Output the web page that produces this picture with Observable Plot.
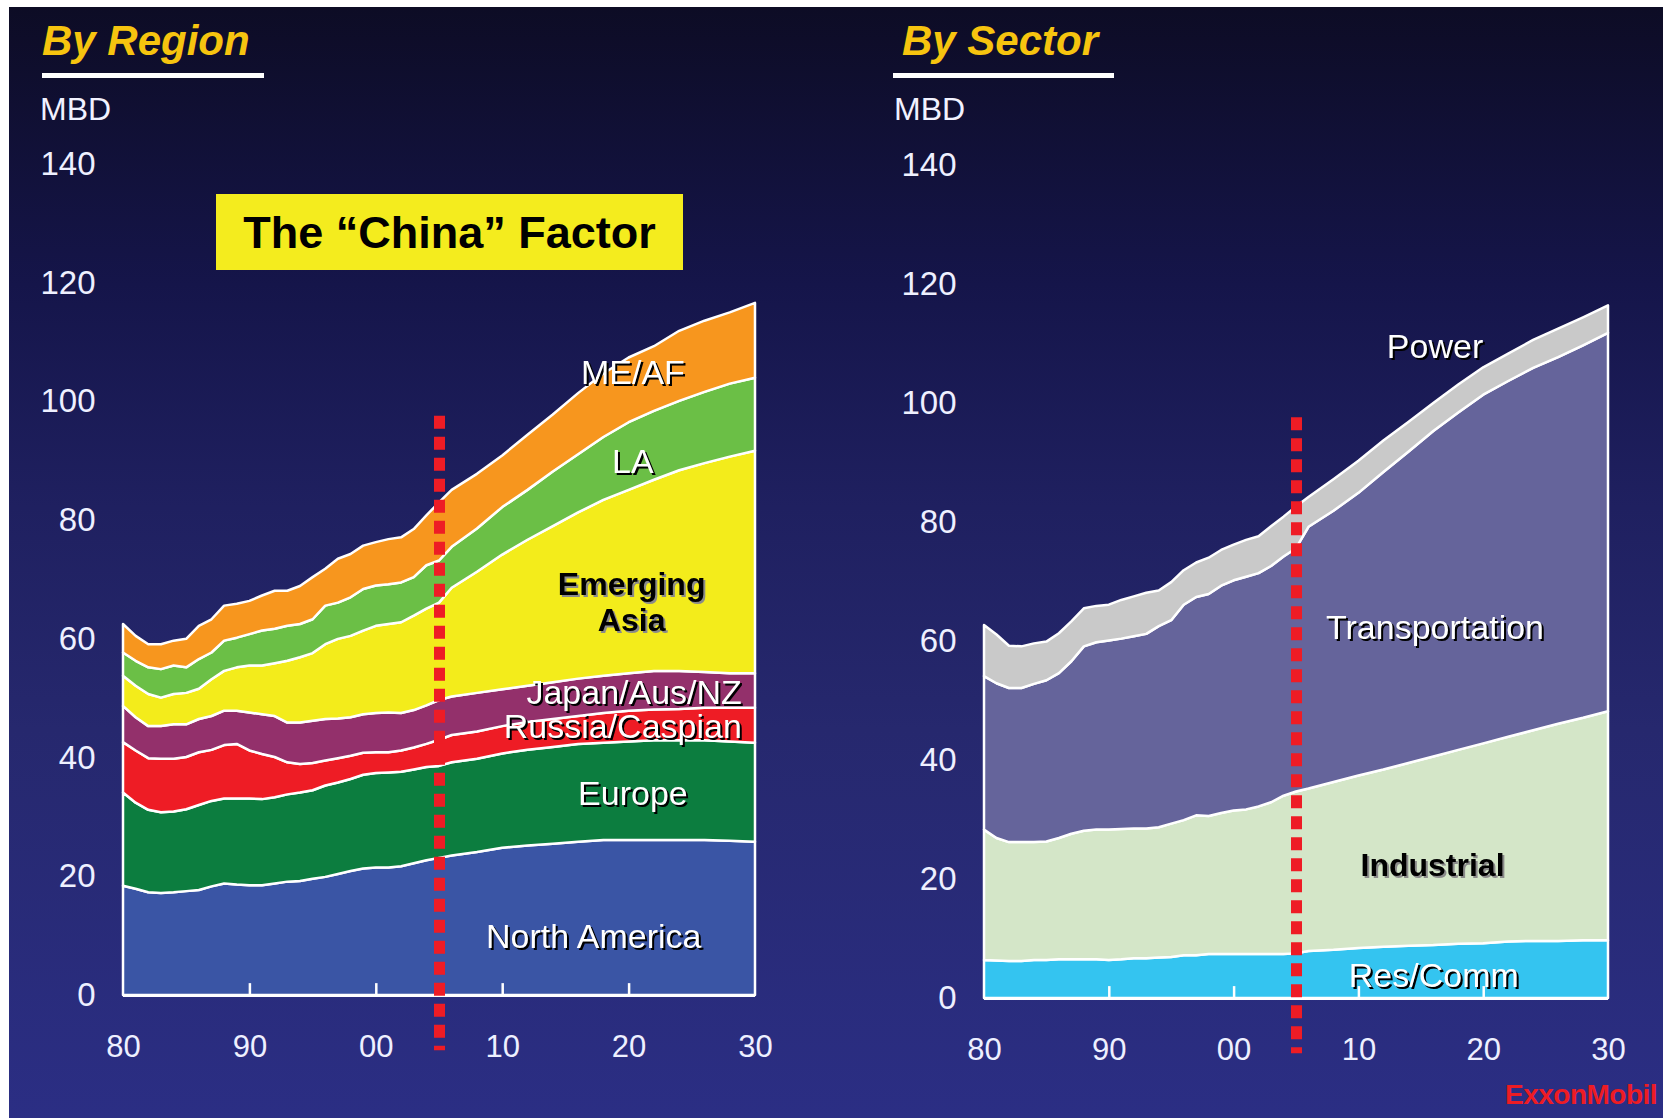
<!DOCTYPE html>
<html>
<head>
<meta charset="utf-8">
<script src="https://cdn.jsdelivr.net/npm/d3@7"></script>
<script src="https://cdn.jsdelivr.net/npm/@observablehq/plot@0.6"></script>
<style>
  html, body { margin: 0; padding: 0; background: #ffffff; }
  #page { position: relative; width: 1663px; height: 1118px; overflow: hidden; background: #ffffff;
          font-family: "Liberation Sans", Arial, sans-serif; }
  #bg { position: absolute; left: 9px; top: 7px; right: 0; bottom: 0;
        background: linear-gradient(180deg, #0d0c25 0%, #15154a 25%, #1f2060 45%, #26286e 65%, #2b2e84 100%); }
  .title { position: absolute; font-size: 42px; line-height: 42px; font-weight: bold; font-style: italic;
           color: #f6c40f; white-space: nowrap; }
  .bar { position: absolute; height: 5px; background: #ffffff; }
  .unit { position: absolute; font-size: 32px; line-height: 32px; color: #f2f2ff; white-space: nowrap; }
  .chart { position: absolute; top: 0; }
  #china { position: absolute; left: 216px; top: 194px; width: 467px; height: 76px; background: #f4ec1e;
           display: flex; align-items: center; justify-content: center;
           font-size: 45px; line-height: 45px; font-weight: bold; color: #000000; white-space: nowrap; }
  #logo { position: absolute; left: 1505px; top: 1081px; font-size: 28px; line-height: 28px; font-weight: bold;
          color: #ed1c24; white-space: nowrap; letter-spacing: -0.5px; }
</style>
</head>
<body>
<div id="page">
  <div id="bg"></div>
  <div class="title" style="left:42px; top:19.5px;">By Region</div>
  <div class="bar" style="left:42px; top:73px; width:222px;"></div>
  <div class="unit" style="left:40px; top:92.5px;">MBD</div>
  <div class="title" style="left:902px; top:19.5px;">By Sector</div>
  <div class="bar" style="left:893px; top:73px; width:221px;"></div>
  <div class="unit" style="left:894px; top:92.5px;">MBD</div>
  <div id="leftChart" class="chart" style="left:0px; width:830px;"></div>
  <div id="rightChart" class="chart" style="left:830px; width:833px;"></div>
  <div id="china">The “China” Factor</div>
  <div id="logo">ExxonMobil</div>
</div>
<script>
// ---------- data (MBD) ----------
const years = [1980,1981,1982,1983,1984,1985,1986,1987,1988,1989,
               1990,1991,1992,1993,1994,1995,1996,1997,1998,1999,
               2000,2001,2002,2003,2004,2005,
               2006,2008,2010,2012,2014,2016,2018,2020,2022,2024,2026,2028,2030];

// By Region
const northAmerica  = [18.4,17.9,17.3,17.2,17.3,17.5,17.7,18.3,18.8,18.6, 18.5,18.5,18.8,19.1,19.2,19.6,19.9,20.4,20.9,21.3, 21.5,21.5,21.7,22.2,22.7,23.1, 23.5,24.1,24.8,25.2,25.5,25.8,26.1,26.1,26.1,26.1,26.1,26.0,25.8];
const europe        = [15.7,14.5,13.9,13.6,13.6,13.8,14.3,14.4,14.3,14.5, 14.6,14.5,14.5,14.7,14.9,14.9,15.4,15.4,15.5,15.8, 15.9,16.0,15.9,15.8,15.7,15.5, 15.7,15.7,15.9,16.1,16.3,16.5,16.4,16.6,16.8,16.8,16.8,16.7,16.7];
const russiaCaspian = [8.5,8.8,8.7,9.0,8.9,8.8,8.9,8.6,9.0,9.2, 8.1,7.6,6.8,5.4,4.8,4.6,4.2,4.1,3.9,3.7, 3.5,3.4,3.6,3.7,3.9,4.4, 4.6,4.6,4.6,4.7,4.7,4.7,5.0,5.2,5.2,5.3,5.5,5.7,5.9];
const japanAusNZ    = [6.1,5.6,5.4,5.5,5.8,5.5,5.6,5.7,5.8,5.6, 6.4,6.7,6.9,6.7,7.0,7.1,7.0,6.7,6.5,6.5, 6.6,6.7,6.3,6.3,6.5,6.7, 6.5,6.5,6.2,6.1,6.2,6.3,6.3,6.3,6.5,6.4,6.0,5.8,5.8];
const emergingAsia  = [5.1,5.3,5.4,4.8,5.1,5.3,5.1,6.2,6.7,7.3, 7.9,8.2,8.9,10.4,11.0,11.4,12.6,13.4,13.7,14.1, 14.7,14.9,15.3,15.9,16.3,16.4, 18.3,20.4,22.7,24.6,26.3,28.0,29.6,30.9,32.2,33.8,35.2,36.5,37.5];
const latinAmerica  = [3.9,4.2,4.5,4.8,4.8,4.3,5.0,4.5,5.1,5.0, 5.3,5.9,5.8,5.9,5.6,5.7,6.5,6.1,6.5,7.0, 6.8,6.7,6.7,6.5,7.3,7.1, 6.9,7.3,8.0,8.4,9.2,9.8,10.6,11.4,11.6,11.7,12.0,12.3,12.3];
const meAfrica      = [4.8,4.2,3.9,4.2,4.2,4.8,5.6,5.6,5.9,5.7, 5.6,5.9,6.4,5.9,6.4,7.1,6.2,7.4,7.3,7.3, 7.3,7.6,7.6,8.1,8.4,9.8, 9.6,9.2,8.7,9.3,9.6,10.3,10.7,10.9,10.9,11.8,12.0,12.0,12.6];
const regionNames   = ["North America","Europe","Russia/Caspian","Japan/Aus/NZ","Emerging Asia","LA","ME/AF"];

// By Sector
const resComm        = [6.4,6.3,6.2,6.2,6.4,6.4,6.5,6.5,6.5,6.5, 6.4,6.5,6.7,6.7,6.8,6.9,7.2,7.2,7.4,7.4, 7.4,7.4,7.4,7.4,7.4,7.5, 7.9,8.1,8.4,8.6,8.8,8.9,9.1,9.2,9.5,9.6,9.6,9.7,9.7];
const industrial     = [21.9,20.6,20.0,20.0,19.8,19.9,20.4,21.1,21.6,21.8, 21.9,21.9,21.8,21.8,21.9,22.4,22.7,23.5,23.2,23.7, 24.1,24.3,24.8,25.5,26.6,27.2, 27.3,28.2,29.0,29.8,30.7,31.7,32.6,33.6,34.4,35.4,36.5,37.4,38.5];
const transportation = [25.8,26.0,25.9,25.9,26.6,27.1,27.7,29.0,31.0,31.5, 31.8,32.0,32.3,32.7,33.8,34.2,36.2,36.7,37.3,38.2, 38.7,39.1,39.2,39.7,40.2,40.9, 44.0,45.6,47.5,50.0,52.3,54.7,56.7,58.6,59.8,60.9,61.6,62.6,63.6];
const power          = [8.6,8.2,7.1,7.0,6.8,6.5,6.7,6.7,6.4,6.1, 6.0,6.5,6.7,6.9,6.0,6.4,5.8,5.8,6.1,6.0, 6.0,6.2,6.2,6.7,6.7,7.0, 5.0,5.3,5.4,5.3,5.0,4.7,4.7,4.6,4.6,4.7,4.8,4.7,4.6];
const sectorNames    = ["Res/Comm","Industrial","Transportation","Power"];

// Axis ticks and annotations (data units)
const xTicks = [1980,1990,2000,2010,2020,2030];
const yTicks = [0,20,40,60,80,100,120,140];
const dividerYear = 2005;      // history / outlook split
const dividerTop = 97.6;
const dividerBottom = -9.3;

const regionLabelText  = ["ME/AF","LA","Emerging\nAsia","Japan/Aus/NZ","Russia/Caspian","Europe","North America"];
const regionLabelYear  = [2020.3, 2020.3, 2020.2, 2020.4, 2019.5, 2020.3, 2017.2];
const regionLabelValue = [104.8, 89.8, 66.4, 51.0, 45.2, 33.9, 9.8];
const regionLabelDark  = [false, false, true, false, false, false, false];

const sectorLabelText  = ["Power","Transportation","Industrial","Res/Comm"];
const sectorLabelYear  = [2016.1, 2016.1, 2015.9, 2016.0];
const sectorLabelValue = [109.5, 62.2, 22.5, 3.7];
const sectorLabelDark  = [false, false, true, false];

// ---------- styles ----------
const FONT = '"Liberation Sans", Arial, sans-serif';
const regionColors = ["#3a55a5","#0c7d3f","#ee1c25","#93306b","#f3ec1b","#6bbf46","#f7961e"];
const sectorColors = ["#34c4f0","#d4e6c8","#65649b","#c9c9c9"];

// ---------- build tables ----------
const regionSeries = [northAmerica, europe, russiaCaspian, japanAusNZ, emergingAsia, latinAmerica, meAfrica];
const sectorSeries = [resComm, industrial, transportation, power];
const toTable = (names, series) => names.flatMap((name, i) => years.map((year, j) => ({year, series: name, value: series[i][j]})));
const regionTable = toTable(regionNames, regionSeries);
const sectorTable = toTable(sectorNames, sectorSeries);
const toLabels = (t, x, y, d) => t.map((text, i) => ({text, year: x[i], value: y[i], dark: d[i]}));
const regionLabels = toLabels(regionLabelText, regionLabelYear, regionLabelValue, regionLabelDark);
const sectorLabels = toLabels(sectorLabelText, sectorLabelYear, sectorLabelValue, sectorLabelDark);

const fmtYear = d => String(d % 100).padStart(2, "0");

function chart({width, marginLeft, marginRight, marginTop, marginBottom, table, names, colors, labels}) {
  const light = labels.filter(d => !d.dark);
  const dark = labels.filter(d => d.dark);
  const svg = Plot.plot({
    width, height: 1118, marginLeft, marginRight, marginTop, marginBottom,
    style: {background: "transparent", color: "#eef0ff", fontFamily: FONT, fontSize: "32px", overflow: "visible"},
    x: {domain: [1980, 2030]},
    y: {domain: [0, 140]},
    color: {domain: names, range: colors},
    marks: [
      Plot.areaY(table, {x: "year", y: "value", fill: "series", stroke: "white", strokeWidth: 2.5, strokeLinejoin: "round"}),
      Plot.ruleY([0], {stroke: "white", strokeWidth: 3}),
      Plot.ruleX(xTicks.slice(1, -1), {y1: 0, y2: 2, stroke: "white", strokeWidth: 2.5}),
      Plot.axisX({ticks: xTicks, tickFormat: fmtYear, tickSize: 0, tickPadding: 39, fontSize: 31, label: null, fill: "#eef0ff"}),
      Plot.axisY({ticks: yTicks, tickSize: 0, tickPadding: 28, fontSize: 33, label: null, fill: "#eef0ff"}),
      Plot.text(light, {x: "year", y: "value", text: "text", fill: "#ffffff", fontSize: 34, lineAnchor: "middle", textAnchor: "middle"}),
      Plot.text(dark, {x: "year", y: "value", text: "text", fill: "#000000", fontSize: 32, fontWeight: "bold", lineHeight: 1.12, lineAnchor: "middle", textAnchor: "middle"}),
      Plot.ruleX([dividerYear], {y1: dividerTop, y2: dividerBottom, stroke: "#ee1c25", strokeWidth: 11, strokeDasharray: "13,8"})
    ]
  });
  // drop shadows on the in-chart labels (white labels: black shadow; black labels: grey shadow)
  const textGroups = svg.querySelectorAll('g[aria-label="text"]');
  if (textGroups[0]) textGroups[0].style.filter = "drop-shadow(2px 2px 0px #000000)";
  if (textGroups[1]) textGroups[1].style.filter = "drop-shadow(2px 2px 0px #8a8a8a)";
  return svg;
}

document.getElementById("leftChart").append(chart({
  width: 830, marginLeft: 123, marginRight: 75, marginTop: 164, marginBottom: 123,
  table: regionTable, names: regionNames, colors: regionColors, labels: regionLabels
}));
document.getElementById("rightChart").append(chart({
  width: 833, marginLeft: 154, marginRight: 55, marginTop: 165, marginBottom: 120,
  table: sectorTable, names: sectorNames, colors: sectorColors, labels: sectorLabels
}));
</script>
</body>
</html>
